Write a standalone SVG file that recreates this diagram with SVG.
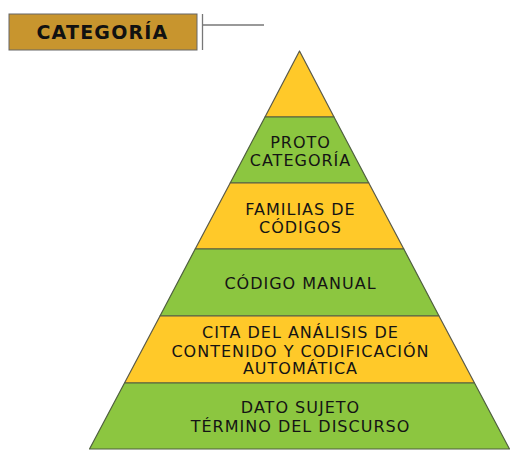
<svg xmlns="http://www.w3.org/2000/svg" width="517" height="462" viewBox="0 0 517 462">
<style>
.y{fill:#FFC929;stroke:#5a5a4a;stroke-width:1.2;stroke-linejoin:round}
.g{fill:#8CC640;stroke:#4f5f3f;stroke-width:1.2;stroke-linejoin:round}
.t{font-family:"DejaVu Sans",Verdana,sans-serif;font-size:16px;letter-spacing:1px;fill:#141414;text-anchor:middle}
.ln{stroke:#777;stroke-width:1.3;fill:none}
</style>
<rect width="517" height="462" fill="#fff"/>
<g id="title">
<rect x="9" y="14" width="188" height="36" fill="#C8952E" stroke="#666" stroke-width="1"/>
<text x="102.5" y="39" style="font-family:'DejaVu Sans',Verdana,sans-serif;font-weight:bold;font-size:19px;letter-spacing:1.2px;fill:#111;text-anchor:middle">CATEGORÍA</text>
</g>
<g id="connectors">
<line class="ln" x1="202.5" y1="14" x2="202.5" y2="50"/>
<line class="ln" x1="203" y1="25" x2="264" y2="25"/>
</g>
<g id="layer-apex"><polygon class="y" points="299.5,51 334,117 265,117"/></g>
<g id="layer-proto"><polygon class="g" points="265,117 334,117 368.8,183 230.2,183"/>
<text class="t" x="300.5" y="148">PROTO</text><text class="t" x="300.5" y="165.5">CATEGORÍA</text></g>
<g id="layer-familias"><polygon class="y" points="230.2,183 368.8,183 403.8,249 195.2,249"/>
<text class="t" x="300.5" y="215">FAMILIAS DE</text><text class="t" x="300.5" y="233">CÓDIGOS</text></g>
<g id="layer-codigo"><polygon class="g" points="195.2,249 403.8,249 439,316 160,316"/>
<text class="t" x="300.5" y="289">CÓDIGO MANUAL</text></g>
<g id="layer-cita"><polygon class="y" points="160,316 439,316 474.5,383 124.5,383"/>
<text class="t" x="300.5" y="337.5">CITA DEL ANÁLISIS DE</text><text class="t" x="300.5" y="356.5">CONTENIDO Y CODIFICACIÓN</text><text class="t" x="300.5" y="374">AUTOMÁTICA</text></g>
<g id="layer-dato"><polygon class="g" points="124.5,383 474.5,383 509.5,449 89.5,449"/>
<text class="t" x="300.5" y="413">DATO SUJETO</text><text class="t" x="300.5" y="432">TÉRMINO DEL DISCURSO</text></g>
</svg>
